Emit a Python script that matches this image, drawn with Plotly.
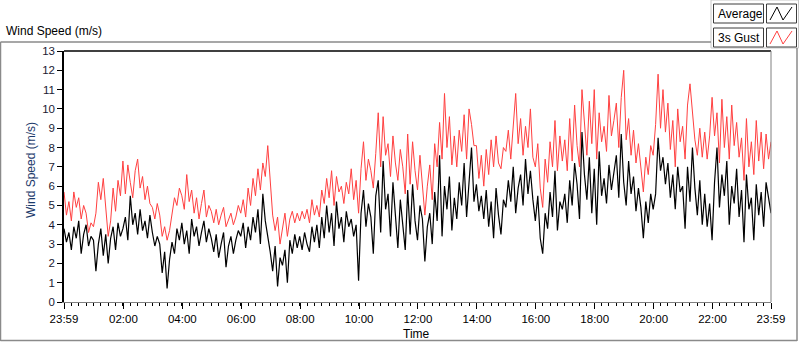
import pandas as pd
import plotly.graph_objects as go

# ---------------- data (5-minute samples) ----------------
start_time = "2024-01-01 23:59"
sample_minutes = 5

average_ms = [
    3.8, 3.1, 3.6, 2.7, 3.9, 3.3, 4.2, 2.5, 3.5, 4.0, 2.9, 3.4,
    3.2, 1.6, 3.0, 3.8, 2.4, 3.5, 2.0, 3.3, 3.9, 2.7, 4.1, 3.4,
    3.8, 4.4, 3.2, 5.5, 4.0, 4.6, 3.5, 4.8, 3.7, 4.2, 3.3, 4.5,
    3.6, 2.9, 3.4, 3.0, 1.5, 2.6, 0.7, 2.2, 3.1, 2.5, 3.8, 3.2,
    4.1, 3.0, 3.7, 2.5, 4.3, 3.4, 3.9, 2.9, 3.6, 4.2, 3.1, 3.8,
    3.3, 2.6, 3.5, 2.3, 3.0, 3.6, 1.8, 2.9, 3.4, 2.5, 3.2, 3.7,
    3.4, 4.1, 2.8, 3.9, 3.2, 4.4, 3.6, 4.8, 3.0, 5.6, 4.2, 3.5,
    2.6, 1.6, 2.9, 0.8, 2.3, 1.9, 2.7, 1.0, 3.2, 2.5, 3.5, 2.8,
    3.4, 2.7, 3.6, 3.0, 2.6, 3.9, 3.1, 4.0, 2.8, 4.4, 3.3, 5.0,
    3.6, 4.6, 2.9, 5.2, 3.8, 4.4, 3.1, 4.7, 3.9, 4.3, 3.4, 4.0,
    1.1, 4.6, 5.8, 3.9, 5.1, 4.4, 2.5, 5.5, 6.3, 3.6, 7.3, 4.8,
    5.6, 3.4, 6.2, 4.5, 2.8, 5.3, 4.1, 2.7, 5.8, 3.5, 6.1, 4.2,
    3.2, 5.0, 4.3, 2.1, 3.9, 4.6, 3.0, 5.7, 4.2, 7.6, 3.4, 6.0,
    4.8, 6.5, 3.7, 5.4, 4.3, 6.2, 5.0, 7.2, 4.4, 6.0, 8.0, 5.2,
    6.1, 4.7, 5.5, 4.3, 5.8, 3.9, 5.2, 3.3, 5.9, 4.5, 3.5, 5.3,
    4.9, 6.3, 5.2, 7.0, 4.6, 5.9, 6.6, 5.0, 7.4, 5.6, 6.8, 5.3,
    4.2, 5.5, 3.3, 2.5, 4.6, 3.8, 5.7, 4.4, 6.8, 3.7, 5.2, 4.8,
    5.6, 4.1, 6.3, 5.0, 7.2, 6.1, 4.3, 8.8, 6.6, 5.3, 7.5, 4.6,
    6.9, 4.0, 7.8, 5.5, 6.4, 5.1, 7.1, 5.8, 6.6, 7.6, 5.4, 8.7,
    6.2, 5.0, 7.3, 5.6, 6.5, 4.7, 5.9, 4.9, 3.3, 5.2, 4.1, 5.6,
    4.8, 5.6, 8.5, 6.8, 7.5, 6.1, 7.2, 5.4, 6.6, 4.8, 7.0, 5.7,
    6.0, 3.8, 7.0, 5.2, 8.0, 5.9, 4.5, 6.3, 4.0, 5.6, 3.9, 5.1,
    3.2, 6.2, 8.0, 4.9, 6.6, 5.5, 7.3, 4.0, 6.0, 5.1, 6.9, 4.4,
    5.8, 3.1, 6.6, 4.8, 5.4, 3.2, 6.1, 4.5, 5.7, 3.9, 6.2, 5.3,
    4.6,
]

gust_3s_ms = [
    5.7, 4.5, 5.2, 4.2, 5.7, 4.9, 5.4, 4.3, 5.0, 4.6, 3.6, 4.1,
    3.9, 4.6, 6.2, 5.3, 6.4, 4.8, 3.4, 4.2, 5.9, 4.7, 6.3, 5.5,
    7.3, 5.6, 7.1, 6.2, 5.4, 6.8, 7.4, 5.9, 6.5, 5.3, 6.0, 5.1,
    4.9, 4.3, 5.1, 4.5, 3.4, 3.9, 3.2, 3.7, 4.6, 5.4, 5.0, 5.9,
    5.5, 4.8, 6.6, 5.2, 5.8, 4.6, 5.4, 4.3, 5.1, 5.8, 4.4, 5.0,
    4.7, 4.1, 4.8, 4.0, 4.5, 4.9, 3.9, 4.3, 4.6, 4.0, 4.4, 5.0,
    4.6, 5.3, 4.4, 5.9, 5.0, 6.4, 5.5, 6.9, 5.8, 7.2, 6.5, 8.1,
    6.2, 4.5, 3.7, 4.4, 3.0, 3.8, 4.6, 3.4, 4.3, 4.7, 4.1, 4.6,
    4.2, 4.7, 4.3, 4.8, 4.1, 5.3, 4.5, 5.0, 4.4, 5.8, 5.1, 6.4,
    5.4, 6.8, 5.0, 6.5, 5.7, 6.0, 5.1, 6.2, 5.6, 6.9, 5.3, 6.3,
    4.6, 6.9, 8.3, 6.3, 7.4, 6.8, 5.9, 7.7, 9.8, 7.0, 9.6, 7.6,
    8.2, 6.5, 8.6, 7.2, 6.3, 7.9, 7.0, 5.6, 8.7, 6.1, 8.3, 6.8,
    5.8, 7.6, 6.2, 4.5, 6.0, 7.1, 5.3, 8.2, 7.0, 9.3, 7.4, 10.8,
    8.0, 9.6, 7.1, 8.6, 7.0, 8.9, 7.8, 9.7, 7.4, 10.0, 9.2, 8.1,
    8.1, 6.4, 7.6, 6.0, 7.9, 6.6, 8.4, 7.0, 8.6, 7.2, 6.9, 8.0,
    7.8, 8.9, 7.4, 9.3, 10.8, 8.2, 9.5, 7.6, 9.1, 8.0, 10.0, 7.5,
    7.0, 8.2, 5.9, 4.9, 7.4, 6.2, 8.3, 7.0, 9.4, 6.8, 8.6, 7.3,
    8.4, 6.8, 9.5, 7.3, 10.2, 8.1, 7.0, 11.0, 9.0, 7.6, 10.4, 8.2,
    11.0, 7.4, 9.8, 8.3, 9.1, 7.8, 10.7, 8.6, 9.4, 10.3, 8.0, 10.6,
    12.0, 8.4, 9.5, 7.6, 8.9, 7.2, 8.2, 6.9, 5.7, 7.5, 6.6, 8.1,
    7.6, 9.2, 11.8, 9.0, 11.0, 8.8, 10.3, 7.9, 9.4, 7.0, 10.0, 8.3,
    9.1, 7.4, 10.2, 11.3, 9.6, 8.4, 7.6, 9.0, 7.5, 8.8, 7.4, 8.6,
    10.6, 8.6, 9.8, 7.2, 10.5, 8.0, 9.6, 7.4, 10.2, 8.1, 9.3, 7.5,
    8.5, 6.3, 9.5, 7.0, 8.3, 6.6, 9.4, 7.3, 8.8, 6.9, 8.7, 7.4,
    8.3,
]

series_names = ["Average", "3s Gust"]
x_tick_labels = ["23:59", "02:00", "04:00", "06:00", "08:00", "10:00", "12:00",
                 "14:00", "16:00", "18:00", "20:00", "22:00", "23:59"]
y_tick_values = list(range(0, 14))

# ---------------- layout geometry ----------------
W, H = 800, 342
ML, MR, MT, MB = 64, 29, 51, 40
PW, PH = W - ML - MR, H - MT - MB


def px(x):
    return (x - ML) / PW


def py(y):
    return (H - MB - y) / PH


times = pd.date_range(start_time, periods=len(average_ms), freq=f"{sample_minutes}min")
t0, t1 = times[0], times[-1]
day2 = t0.normalize() + pd.Timedelta(days=1)
major_ticks = [t0] + [day2 + pd.Timedelta(hours=h) for h in range(2, 23, 2)] + [t1]
minor_ticks = [t0 + pd.Timedelta(minutes=15 * k) for k in range(1, 96)]

RED = "#ff4040"

fig = go.Figure()
fig.add_trace(go.Scatter(x=times, y=gust_3s_ms, mode="lines", name=series_names[1],
                         line=dict(color=RED, width=1)))
fig.add_trace(go.Scatter(x=times, y=average_ms, mode="lines", name=series_names[0],
                         line=dict(color="#000000", width=1.2)))

tick_font = dict(family="Liberation Sans, Arial, sans-serif", size=11.5, color="#000000")

fig.update_layout(
    width=W, height=H,
    margin=dict(l=ML, r=MR, t=MT, b=MB, pad=0),
    paper_bgcolor="white", plot_bgcolor="white",
    showlegend=False,
    font=dict(family="Liberation Sans, Arial, sans-serif", size=12, color="#000000"),
    xaxis=dict(
        range=[t0, t1], showgrid=False, zeroline=False,
        showline=True, linecolor="#808080", linewidth=1,
        tickmode="array", tickvals=major_ticks, ticktext=x_tick_labels,
        ticks="outside", ticklen=6, tickwidth=1, tickcolor="#000000",
        tickfont=tick_font, tickangle=0,
        minor=dict(tickmode="array", tickvals=minor_ticks, ticks="outside",
                   ticklen=3, tickwidth=1, tickcolor="#000000", showgrid=False),
    ),
    yaxis=dict(
        range=[0, 13], showgrid=False, zeroline=False,
        showline=True, linecolor="#000000", linewidth=1.5,
        tickmode="array", tickvals=y_tick_values,
        ticktext=[str(v) for v in y_tick_values],
        ticks="outside", ticklen=5, tickwidth=1, tickcolor="#000000",
        tickfont=dict(family="Liberation Sans, Arial, sans-serif", size=11.5, color="#1a1a33"),
    ),
)

shapes = []
GRAY = "#8a8a8a"
# outer panel border
shapes.append(dict(type="line", xref="paper", yref="paper", x0=px(0.5), x1=px(711), y0=py(42), y1=py(42),
                   line=dict(color=GRAY, width=1.5)))
shapes.append(dict(type="line", xref="paper", yref="paper", x0=px(0.5), x1=px(0.5), y0=py(42), y1=py(341),
                   line=dict(color=GRAY, width=1.5)))
shapes.append(dict(type="line", xref="paper", yref="paper", x0=px(0.5), x1=px(797), y0=py(340.5), y1=py(340.5),
                   line=dict(color=GRAY, width=1.5)))
shapes.append(dict(type="line", xref="paper", yref="paper", x0=px(797), x1=px(797), y0=py(48), y1=py(341),
                   line=dict(color=GRAY, width=1.5)))
# legend panel
shapes.append(dict(type="rect", xref="paper", yref="paper", x0=px(711), x1=px(798.5), y0=py(0), y1=py(48),
                   line=dict(color="#c8c8c8", width=1), fillcolor="white", layer="below"))
# plot frame top and right
shapes.append(dict(type="line", xref="paper", yref="paper", x0=0, x1=1, y0=1, y1=1,
                   line=dict(color="#000000", width=1.5)))
shapes.append(dict(type="line", xref="paper", yref="paper", x0=1, x1=1, y0=0, y1=1,
                   line=dict(color="#808080", width=1)))

# legend boxes
legend_rows = [(series_names[0], "#000000", 4), (series_names[1], RED, 28)]
for name, color, top in legend_rows:
    shapes.append(dict(type="rect", xref="paper", yref="paper", x0=px(713.5), x1=px(763.5),
                       y0=py(top + 19), y1=py(top), line=dict(color="#3c3c3c", width=1), fillcolor="white"))
    shapes.append(dict(type="rect", xref="paper", yref="paper", x0=px(766.5), x1=px(796.5),
                       y0=py(top + 19), y1=py(top), line=dict(color="#3c3c3c", width=1), fillcolor="white"))
    pts = [(770, top + 16), (777, top + 3), (783, top + 16), (792, top + 3)]
    path = "M " + " L ".join(f"{px(a)},{py(b)}" for a, b in pts)
    shapes.append(dict(type="path", xref="paper", yref="paper", path=path,
                       line=dict(color=color, width=1)))

annotations = [
    dict(text="Wind Speed (m/s)", xref="paper", yref="paper", x=px(4), y=py(31),
         xanchor="left", yanchor="middle", showarrow=False,
         font=dict(size=12, color="#000000")),
    dict(text="Wind Speed (m/s)", xref="paper", yref="paper", x=px(31), y=py(170),
         xanchor="center", yanchor="middle", textangle=-90, showarrow=False,
         font=dict(size=12, color="#1c3a6b")),
    dict(text="Time", xref="paper", yref="paper", x=px(416), y=py(334),
         xanchor="center", yanchor="middle", showarrow=False,
         font=dict(size=12, color="#000000")),
]
for name, color, top in legend_rows:
    annotations.append(dict(text=name, xref="paper", yref="paper", x=px(715.5), y=py(top + 10),
                            xanchor="left", yanchor="middle", showarrow=False,
                            font=dict(size=12, color="#000000")))

fig.update_layout(shapes=shapes, annotations=annotations)
fig.write_html(
    "out.html",
    config={"displayModeBar": False},
    post_script="document.body.style.margin='0';document.body.style.overflow='hidden';",
)
